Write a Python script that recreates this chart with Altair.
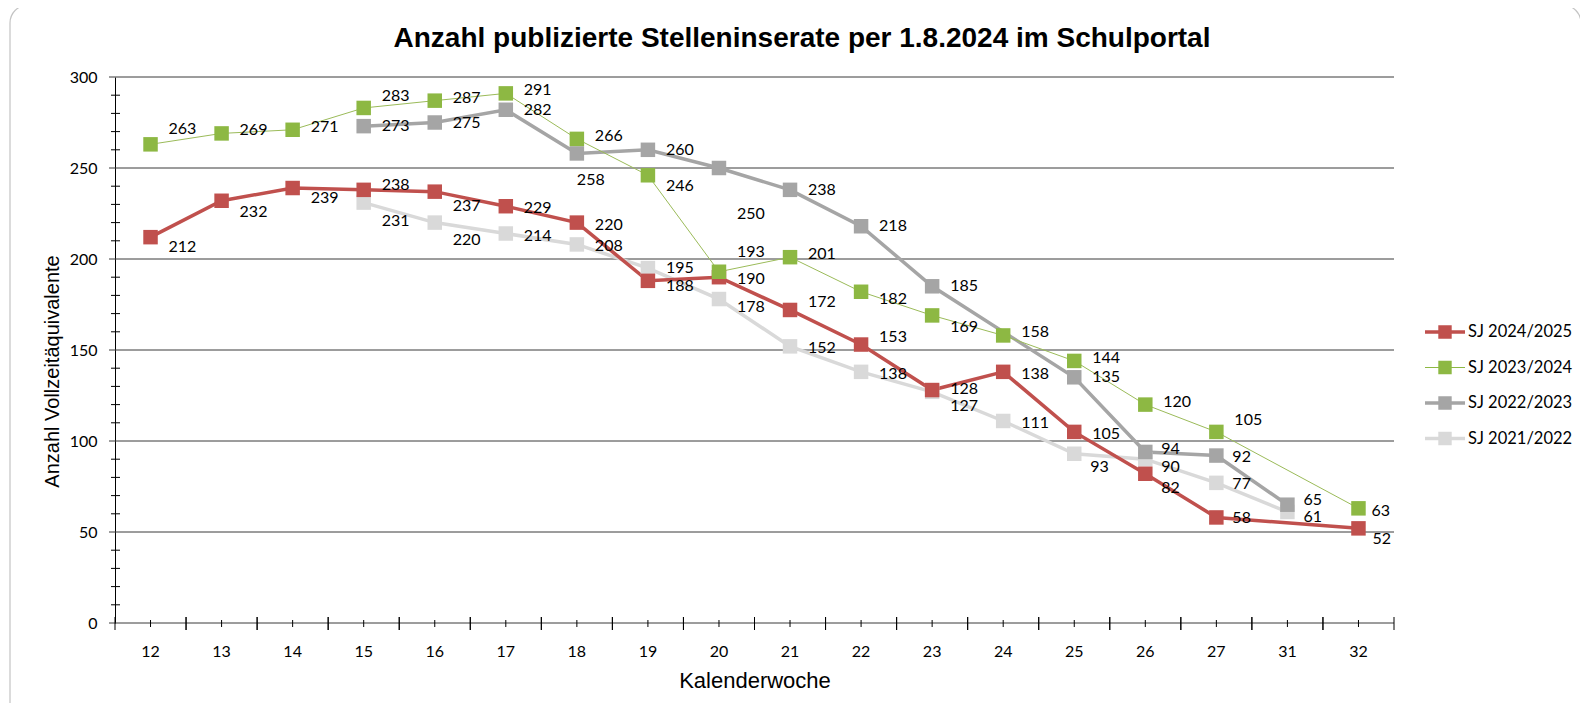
import altair as alt
import pandas as pd

# ---------------- data ----------------
weeks = ["12", "13", "14", "15", "16", "17", "18", "19", "20", "21", "22", "23",
         "24", "25", "26", "27", "31", "32"]
sj_2024_2025 = [212, 232, 239, 238, 237, 229, 220, 188, 190, 172, 153, 128, 138, 105, 82, 58, None, 52]
sj_2023_2024 = [263, 269, 271, 283, 287, 291, 266, 246, 193, 201, 182, 169, 158, 144, 120, 105, None, 63]
sj_2022_2023 = [None, None, None, 273, 275, 282, 258, 260, 250, 238, 218, 185, None, 135, 94, 92, 65, None]
sj_2021_2022 = [None, None, None, 231, 220, 214, 208, 195, 178, 152, 138, 127, 111, 93, 90, 77, 61, None]
series_names = ["SJ 2024/2025", "SJ 2023/2024", "SJ 2022/2023", "SJ 2021/2022"]
y_major = [0, 50, 100, 150, 200, 250, 300]
y_minor = [10, 20, 30, 40, 60, 70, 80, 90, 110, 120, 130, 140, 160, 170, 180, 190,
           210, 220, 230, 240, 260, 270, 280, 290]
title_text = "Anzahl publizierte Stelleninserate per 1.8.2024 im Schulportal"

values_by_series = dict(zip(series_names, [sj_2024_2025, sj_2023_2024, sj_2022_2023, sj_2021_2022]))

rows = []
for s, vals in values_by_series.items():
    for w, v in zip(weeks, vals):
        if v is not None:
            rows.append({"kw": w, "v": v, "series": s})
df = pd.DataFrame(rows)

# ---------------- styles ----------------
W, H = 1279, 546
colors = {"SJ 2024/2025": "#C0504D", "SJ 2023/2024": "#9BBB59",
          "SJ 2022/2023": "#A5A5A5", "SJ 2021/2022": "#D9D9D9"}
marker_colors = {"SJ 2024/2025": "#C0504D", "SJ 2023/2024": "#8DB843",
                 "SJ 2022/2023": "#A5A5A5", "SJ 2021/2022": "#D9D9D9"}
line_widths = {"SJ 2024/2025": 3.5, "SJ 2023/2024": 1.0,
               "SJ 2022/2023": 3.5, "SJ 2021/2022": 3.5}
# data label placement (pixel nudges, as in the manually arranged original)
label_default_dy = {"SJ 2024/2025": 2, "SJ 2023/2024": -3,
                    "SJ 2022/2023": 0, "SJ 2021/2022": 2}
label_nudge = {
    ("SJ 2024/2025", "12"): (0, 10), ("SJ 2024/2025", "13"): (0, 11),
    ("SJ 2024/2025", "14"): (0, 10), ("SJ 2024/2025", "15"): (0, -5),
    ("SJ 2024/2025", "16"): (0, 14), ("SJ 2024/2025", "19"): (0, 5),
    ("SJ 2024/2025", "21"): (0, -8),
    ("SJ 2024/2025", "22"): (0, -8), ("SJ 2024/2025", "23"): (0, -1),
    ("SJ 2024/2025", "26"): (-2, 14), ("SJ 2024/2025", "27"): (-2, 1),
    ("SJ 2024/2025", "32"): (-4, 11),
    ("SJ 2023/2024", "12"): (0, -15), ("SJ 2023/2024", "15"): (0, -12),
    ("SJ 2023/2024", "19"): (0, 11), ("SJ 2023/2024", "20"): (0, -20),
    ("SJ 2023/2024", "22"): (0, 7), ("SJ 2023/2024", "23"): (0, 12),
    ("SJ 2023/2024", "27"): (0, -12), ("SJ 2023/2024", "32"): (-5, 3),
    ("SJ 2022/2023", "18"): (-18, 27), ("SJ 2022/2023", "20"): (0, 46),
    ("SJ 2022/2023", "26"): (-2, -3), ("SJ 2022/2023", "27"): (-2, 1),
    ("SJ 2022/2023", "31"): (-2, -5),
    ("SJ 2021/2022", "15"): (0, 18), ("SJ 2021/2022", "16"): (0, 17),
    ("SJ 2021/2022", "19"): (0, 0),
    ("SJ 2021/2022", "20"): (0, 8), ("SJ 2021/2022", "23"): (0, 14),
    ("SJ 2021/2022", "25"): (-2, 13), ("SJ 2021/2022", "26"): (-2, 8),
    ("SJ 2021/2022", "27"): (-2, 1), ("SJ 2021/2022", "31"): (-2, 5),
}
thick = "M-2,-0.18H2V0.18H-2Z M-0.67,-0.67H0.67V0.67H-0.67Z"
thin = "M-2,-0.05H2V0.05H-2Z M-0.67,-0.67H0.67V0.67H-0.67Z"
legend_shapes = [thick, thin, thick, thick]

LABEL_FONT = "Lato"
AXIS_TITLE_FONT = "Liberation Sans"

xscale = alt.Scale(domain=weeks, paddingInner=0, paddingOuter=0)
yscale = alt.Scale(domain=[0, 300], nice=False, zero=True)
xaxis = alt.Axis(title="Kalenderwoche", ticks=False, domain=False, grid=False,
                 labelFont=LABEL_FONT, labelFontSize=16, labelColor="#000000",
                 labelPadding=20, labelAngle=0,
                 titleFont=AXIS_TITLE_FONT, titleFontSize=22, titleFontWeight="normal",
                 titleColor="#000000", titleBaseline="alphabetic", titleY=64)
yaxis = alt.Axis(title="Anzahl Vollzeitäquivalente", values=y_major, ticks=False,
                 domain=True, domainColor="#000000", domainWidth=1, grid=False,
                 labelFont=LABEL_FONT, labelFontSize=16, labelColor="#000000",
                 labelPadding=18,
                 titleFont=AXIS_TITLE_FONT, titleFontSize=20, titleFontWeight="normal",
                 titleColor="#000000", titleBaseline="alphabetic", titleAlign="center",
                 titleAngle=270, titleX=-57, titleY=294)


def X(**kw):
    return alt.X("kw:O", scale=xscale, axis=xaxis, **kw)


def Y():
    return alt.Y("v:Q", scale=yscale, axis=yaxis)


layers = []

# chart frame
frame = alt.Chart(pd.DataFrame({"a": [0]})).mark_rect(
    fillOpacity=0, stroke="#C4C4C4", strokeWidth=1.2, cornerRadius=18
).encode(x=alt.value(-105), x2=alt.value(1466), y=alt.value(-72), y2=alt.value(680))
layers.append(frame)

# horizontal grid lines (with tick extending left of axis)
grid_df = pd.DataFrame({"v": y_major, "kw": weeks[0], "series": ""})
grid = alt.Chart(grid_df).mark_rule(color="#3A3A3A", strokeWidth=1).encode(
    y=Y(), x=alt.value(-6), x2=alt.value(W))
layers.append(grid)

# minor ticks on y axis
minor_df = pd.DataFrame({"v": y_minor, "kw": weeks[0], "series": ""})
minor = alt.Chart(minor_df).mark_rule(color="#000000", strokeWidth=1).encode(
    y=Y(), x=alt.value(-4), x2=alt.value(5))
layers.append(minor)

# x axis ticks: band boundaries and centers
wk_df = pd.DataFrame({"kw": weeks, "v": 0, "series": ""})
for bp in (0, 1):
    layers.append(alt.Chart(wk_df).mark_rule(color="#000000", strokeWidth=1).encode(
        x=X(bandPosition=bp), y=alt.value(H - 6), y2=alt.value(H + 7)))
layers.append(alt.Chart(wk_df).mark_rule(color="#000000", strokeWidth=1).encode(
    x=X(bandPosition=0.5), y=alt.value(H - 3), y2=alt.value(H + 4)))

line_order = ["SJ 2021/2022", "SJ 2022/2023", "SJ 2023/2024", "SJ 2024/2025"]
marker_order = ["SJ 2021/2022", "SJ 2022/2023", "SJ 2024/2025", "SJ 2023/2024"]

for s in line_order:
    sub = df[df.series == s]
    layers.append(alt.Chart(sub).mark_line(color=colors[s], strokeWidth=line_widths[s]).encode(
        x=X(), y=Y()))

for s in marker_order:
    sub = df[df.series == s]
    layers.append(alt.Chart(sub).mark_point(shape="square", filled=True, size=210, opacity=1,
                                            color=marker_colors[s]).encode(x=X(), y=Y()))

# data labels, grouped by their placement nudge
for s in line_order:
    sub = df[df.series == s].copy()
    offs = [label_nudge.get((s, w), (0, label_default_dy[s])) for w in sub.kw]
    sub["ndx"] = [o[0] for o in offs]
    sub["ndy"] = [o[1] for o in offs]
    for (ndx, ndy), grp in sub.groupby(["ndx", "ndy"]):
        layers.append(alt.Chart(grp[["kw", "v", "series"]]).mark_text(
            align="left", baseline="middle", dx=18 + int(ndx), dy=int(ndy),
            font=LABEL_FONT, fontSize=16, color="#000000").encode(
            x=X(), y=Y(), text=alt.Text("v:Q")))

# chart title
layers.append(alt.Chart(pd.DataFrame({"t": [title_text]})).mark_text(
    font="Liberation Sans", fontSize=28, fontWeight="bold", color="#000000",
    align="center", baseline="alphabetic").encode(
    text="t:N", x=alt.value(687), y=alt.value(-30)))

# legend (built from an empty layer with explicit domains)
legend = alt.Legend(title=None, orient="none", legendX=1320, legendY=245, padding=0,
                    symbolSize=400, symbolStrokeWidth=0, labelOffset=13, rowPadding=16.5,
                    labelFont=LABEL_FONT, labelFontSize=16.5, labelColor="#000000",
                    labelLimit=300)
legend_layer = alt.Chart(df).transform_filter("false").mark_point(filled=True, opacity=1).encode(
    x=X(), y=Y(),
    color=alt.Color("series:N", scale=alt.Scale(domain=series_names,
                                                range=[colors[s] if s != "SJ 2023/2024" else marker_colors[s]
                                                       for s in series_names]),
                    legend=legend),
    shape=alt.Shape("series:N", scale=alt.Scale(domain=series_names, range=legend_shapes),
                    legend=legend),
)
layers.append(legend_layer)

chart = alt.layer(*layers).properties(
    width=W, height=H,
    padding={"left": 107, "top": 69, "right": 186, "bottom": 80},
    autosize=alt.AutoSizeParams(type="none"),
    background="#FFFFFF",
).configure_view(stroke=None)

chart.save("out.html", embed_options={"renderer": "svg", "actions": False})
